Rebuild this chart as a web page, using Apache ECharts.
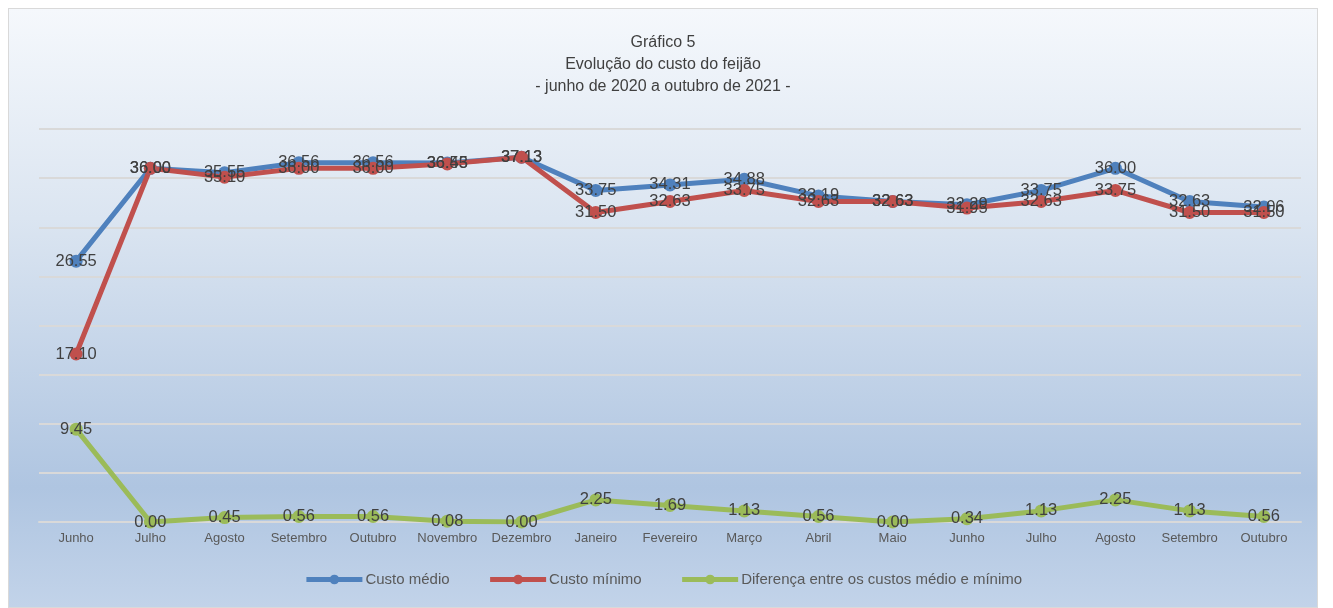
<!DOCTYPE html>
<html>
<head>
<meta charset="utf-8">
<script src="https://cdn.jsdelivr.net/npm/echarts@6/dist/echarts.min.js"></script>
<style>
  html, body { margin: 0; padding: 0; background: #fff; }
  #chart {
    position: absolute;
    left: 8px; top: 8px;
    width: 1310px; height: 600px;
    border: 1px solid #d9d9d9;
    box-sizing: border-box;
    background: linear-gradient(to bottom, #f5f8fc 0%, #dbe5f1 35%, #afc5e1 80%, #c2d3e9 100%);
  }
</style>
</head>
<body>
<div id="chart"></div>
<script>
const meses = ['Junho', 'Julho', 'Agosto', 'Setembro', 'Outubro', 'Novembro', 'Dezembro', 'Janeiro',
  'Fevereiro', 'Março', 'Abril', 'Maio', 'Junho', 'Julho', 'Agosto', 'Setembro', 'Outubro']
const custoMedio = [26.55, 36.00, 35.55, 36.56, 36.56, 36.53, 37.13, 33.75, 34.31, 34.88, 33.19, 32.63, 32.29, 33.75, 36.00, 32.63, 32.06]
const custoMinimo = [17.10, 36.00, 35.10, 36.00, 36.00, 36.45, 37.13, 31.50, 32.63, 33.75, 32.63, 32.63, 31.95, 32.63, 33.75, 31.50, 31.50]
const diferenca = [9.45, 0.00, 0.45, 0.56, 0.56, 0.08, 0.00, 2.25, 1.69, 1.13, 0.56, 0.00, 0.34, 1.13, 2.25, 1.13, 0.56]

const fonte = '"Liberation Sans Narrow", "Liberation Sans", sans-serif'

function serie (name, data, color) {
  return {
    name: name,
    type: 'line',
    data: data,
    symbol: 'circle',
    symbolSize: 13,
    lineStyle: { width: 5, color: color },
    itemStyle: { color: color },
    label: {
      show: true,
      position: 'inside',
      formatter: p => p.value.toFixed(2),
      color: '#404040',
      fontSize: 16.5,
      fontFamily: 'Liberation Sans, sans-serif'
    },
    emphasis: { disabled: true }
  }
}

let chart = echarts.init(document.getElementById('chart'))
chart.setOption({
  animation: false,
  title: {
    text: 'Gráfico 5\nEvolução do custo do feijão\n- junho de 2020 a outubro de 2021 -',
    left: 'center',
    top: 18,
    textStyle: {
      fontSize: 16,
      fontWeight: 'normal',
      color: '#404040',
      lineHeight: 22,
      fontFamily: fonte
    }
  },
  grid: {
    left: 30,
    right: 16,
    top: 120,
    bottom: 85
  },
  legend: {
    bottom: 15,
    left: 'center',
    itemWidth: 56,
    itemHeight: 12,
    itemGap: 38,
    lineStyle: { width: 5 },
    textStyle: { color: '#595959', fontSize: 15, fontFamily: fonte, padding: [0, 0, 0, -2] },
    data: ['Custo médio', 'Custo mínimo', 'Diferença entre os custos médio e mínimo']
  },
  xAxis: {
    type: 'category',
    data: meses,
    axisLine: { lineStyle: { color: '#d9d9d9', width: 2 } },
    axisTick: { show: false },
    axisLabel: { color: '#595959', fontSize: 13, fontFamily: fonte, margin: 10, interval: 0 }
  },
  yAxis: {
    type: 'value',
    min: 0,
    max: 40,
    interval: 5,
    axisLabel: { show: false },
    axisLine: { show: false },
    axisTick: { show: false },
    splitLine: { lineStyle: { color: '#d9d9d9', width: 2 } }
  },
  series: [
    serie('Custo médio', custoMedio, '#4f81bd'),
    serie('Custo mínimo', custoMinimo, '#c0504d'),
    serie('Diferença entre os custos médio e mínimo', diferenca, '#9bbb59')
  ]
})
</script>
</body>
</html>
